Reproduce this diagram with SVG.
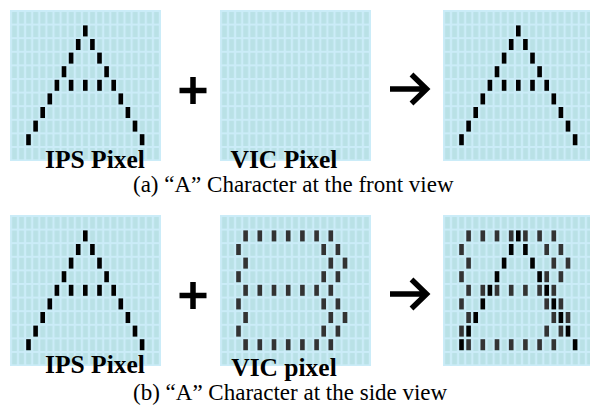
<svg xmlns="http://www.w3.org/2000/svg" xmlns:xlink="http://www.w3.org/1999/xlink" width="590" height="406" viewBox="0 0 590 406">
<style>
.bg{fill:#cbecf8}
.cells{fill:url(#cells)}
.lbl{font-family:"Liberation Serif","Times New Roman",serif;font-weight:bold;font-size:25.5px;fill:#000;text-anchor:middle}
.cap{font-family:"Liberation Serif","Times New Roman",serif;font-size:23px;fill:#000}
.op{fill:none;stroke:#000;stroke-width:5.5}
</style>
<defs>
<pattern id="cells" width="7.1" height="13.6" patternUnits="userSpaceOnUse">
<rect x="2" y="2" width="4.9" height="11.6" fill="#b9e1e6"/>
</pattern>
<rect id="px" width="4.6" height="11"/>
<g id="grid"><rect class="bg" width="151" height="151"/><rect class="cells" width="149.5" height="149.6"/></g>
<g id="Alegs" fill="#000">
<use href="#px" x="73" y="15.4"/>
<use href="#px" x="65.9" y="29"/><use href="#px" x="80.1" y="29"/>
<use href="#px" x="58.8" y="42.6"/><use href="#px" x="87.2" y="42.6"/>
<use href="#px" x="51.7" y="56.2"/><use href="#px" x="94.3" y="56.2"/>
<use href="#px" x="44.6" y="69.8"/><use href="#px" x="101.4" y="69.8"/>
<use href="#px" x="37.5" y="83.4"/><use href="#px" x="108.5" y="83.4"/>
<use href="#px" x="30.4" y="97"/><use href="#px" x="115.6" y="97"/>
<use href="#px" x="23.3" y="110.6"/><use href="#px" x="122.7" y="110.6"/>
<use href="#px" x="16.2" y="124.2"/><use href="#px" x="129.8" y="124.2"/>
</g>
<g id="glyphA" fill="#000">
<use href="#Alegs"/>
<use href="#px" x="58.8" y="69.8"/><use href="#px" x="73" y="69.8"/><use href="#px" x="87.2" y="69.8"/>
</g>
<g id="row8" fill="#333">
<use href="#px" x="23.3"/><use href="#px" x="37.5"/><use href="#px" x="51.7"/><use href="#px" x="65.9"/><use href="#px" x="80.1"/><use href="#px" x="94.3"/><use href="#px" x="108.5"/>
</g>
<g id="sideL" fill="#333"><use href="#px" x="16.2"/><use href="#px" x="101.4"/><use href="#px" x="115.6"/></g>
<g id="sideR" fill="#333"><use href="#px" x="23.3"/><use href="#px" x="108.5"/><use href="#px" x="122.7"/></g>
<g id="glyph8">
<use href="#row8" y="15.4"/>
<use href="#sideL" y="29"/>
<use href="#sideR" y="42.6"/>
<use href="#sideL" y="56.2"/>
<use href="#row8" y="69.8"/>
<use href="#sideL" y="83.4"/>
<use href="#sideR" y="97"/>
<use href="#sideL" y="110.6"/>
<use href="#row8" y="124.2"/>
</g>
</defs>
<rect width="590" height="406" fill="#fff"/>

<g id="ips-front" transform="translate(10,10)"><use href="#grid"/><use href="#glyphA"/></g>
<g id="vic-front" transform="translate(220,10)"><use href="#grid"/></g>
<g id="result-front" transform="translate(443,10)"><use href="#grid"/><use href="#glyphA"/></g>

<g id="ips-side" transform="translate(10,215)"><use href="#grid"/><use href="#glyphA"/></g>
<g id="vic-side" transform="translate(220,215)"><use href="#grid"/><use href="#glyph8"/></g>
<g id="result-side" transform="translate(443,215)"><use href="#grid"/><use href="#glyph8"/><use href="#Alegs"/></g>

<g id="operators">
<path class="op" d="M179.5,90.5H206.5M193,77V104"/>
<path class="op" d="M390,89H426M411.5,74.5L426.5,89L411.5,103.5"/>
<path class="op" d="M179.5,295.5H206.5M193,282V309"/>
<path class="op" d="M390,294H426M411.5,279.5L426.5,294L411.5,308.5"/>
</g>

<g id="labels">
<text class="lbl" x="95" y="168">IPS Pixel</text>
<text class="lbl" x="284" y="168">VIC Pixel</text>
<text class="cap" x="133" y="192">(a) “A” Character at the front view</text>
<text class="lbl" x="95" y="373">IPS Pixel</text>
<text class="lbl" x="284" y="376">VIC pixel</text>
<text class="cap" x="133" y="400">(b) “A” Character at the side view</text>
</g>
</svg>
